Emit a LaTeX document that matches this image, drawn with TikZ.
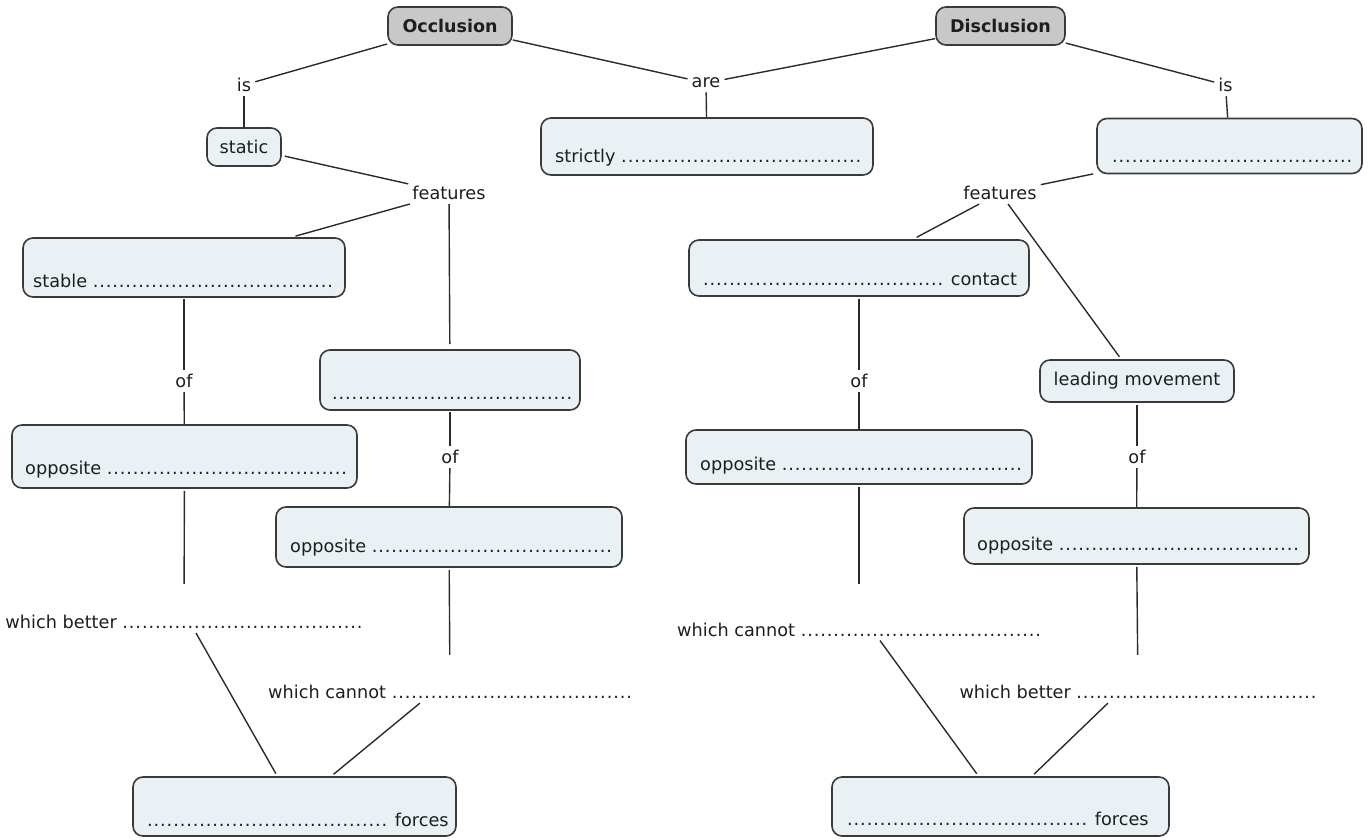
\documentclass[tikz,border=0pt]{standalone}
\usepackage{fontspec}
\setmainfont{DejaVu Sans}
\newfontfamily\dotfont[LetterSpace=5]{DejaVu Sans}
\newcommand\dt{{\dotfont .....................................}}
\definecolor{txt}{HTML}{1E1E1E}
\definecolor{lin}{HTML}{2B2B2B}
\definecolor{bord}{HTML}{3A3A3A}
\definecolor{boxfill}{HTML}{EAF1F4}
\definecolor{topfill}{HTML}{C8C8C8}
\begin{document}
\begin{tikzpicture}[x=1pt,y=-1pt,
  every node/.style={font=\fontsize{17.7}{21}\selectfont, text=txt},
  box/.style={draw=bord, line width=1.6pt, fill=boxfill, rounded corners=10pt, inner sep=0pt},
  topbox/.style={box, fill=topfill, font=\fontsize{17.5}{21}\selectfont\bfseries},
  lab/.style={inner sep=4pt},
  bt/.style={anchor=base west, inner sep=0pt},
  con/.style={draw=lin, line width=1.4pt}]
\useasboundingbox (0,0) rectangle (1371,840);

% top concepts
\node[topbox, minimum width=124pt, minimum height=38pt] (occ) at (450,26) {Occlusion};
\node[topbox, minimum width=129pt, minimum height=38pt] (dis) at (1000.5,26) {Disclusion};

% linking words
\node[lab] (isL) at (244,85) {is};
\node[lab] (are) at (706,83) {are};
\node[lab] (isR) at (1225.5,85) {is};
\node[lab] (featL) at (449,193) {features};
\node[lab] (featR) at (1000,193) {features};
\node[lab] (ofL1) at (184,381) {of};
\node[lab] (ofL2) at (450,457) {of};
\node[lab] (ofR1) at (859,381) {of};
\node[lab] (ofR2) at (1137,457) {of};
\node[lab] (wbL) at (184,622) {which better \dt};
\node[lab] (wcL) at (450,692) {which cannot \dt};
\node[lab] (wcR) at (859,629.5) {which cannot \dt};
\node[lab] (wbR) at (1138,692) {which better \dt};

% concepts
\node[box, minimum width=74pt, minimum height=38pt] (static) at (244,147) {static};
\node[box, minimum width=332pt, minimum height=57pt] (strict) at (707,146.5) {};
\node[bt] (strictT) at (555,163) {strictly \dt};
\node[box, minimum width=265pt, minimum height=55pt] (r1) at (1229.5,146) {};
\node[bt] (r1T) at (1112,163) {\dt};
\node[box, minimum width=322pt, minimum height=59pt] (stable) at (184,267.5) {};
\node[bt] (stableT) at (33,287) {stable \dt};
\node[box, minimum width=260pt, minimum height=60pt] (m1) at (450,380) {};
\node[bt] (m1T) at (332,399) {\dt};
\node[box, minimum width=340pt, minimum height=56pt] (contact) at (859,268) {};
\node[bt] (contactT) at (703,285) {\dt{} contact};
\node[box, minimum width=194pt, minimum height=42pt] (lead) at (1137,381) {leading movement};
\node[box, minimum width=345pt, minimum height=63pt] (oppL1) at (184.5,456.5) {};
\node[bt] (oppL1T) at (25,474) {opposite \dt};
\node[box, minimum width=346pt, minimum height=60pt] (oppL2) at (449,537) {};
\node[bt] (oppL2T) at (290,552) {opposite \dt};
\node[box, minimum width=346pt, minimum height=54pt] (oppR1) at (859,457) {};
\node[bt] (oppR1T) at (700,470) {opposite \dt};
\node[box, minimum width=345pt, minimum height=56pt] (oppR2) at (1136.5,536) {};
\node[bt] (oppR2T) at (977,550) {opposite \dt};
\node[box, minimum width=323pt, minimum height=59pt] (forcesL) at (294.5,806.5) {};
\node[bt] (forcesLT) at (147,826) {\dt{} forces};
\node[box, minimum width=337pt, minimum height=59pt] (forcesR) at (1000.5,806.5) {};
\node[bt] (forcesRT) at (847,825) {\dt{} forces};

% connectors
\draw[con] (occ) -- (isL);
\draw[con] (isL) -- (static);
\draw[con] (occ) -- (are);
\draw[con] (dis) -- (are);
\draw[con] (are) -- (strict);
\draw[con] (dis) -- (isR);
\draw[con] (isR) -- (r1);
\draw[con, shorten <=3pt] (static) -- (featL);
\draw[con, shorten >=4pt] (featL) -- (stable);
\draw[con, shorten >=5pt] (featL) -- (m1);
\draw[con, shorten <=3pt] (r1) -- (featR);
\draw[con, shorten >=4pt] (featR) -- (contact);
\draw[con, shorten >=3pt] (featR) -- (lead);
\draw[con, shorten <=1pt] (stable) -- (ofL1);
\draw[con] (ofL1) -- (oppL1);
\draw[con, shorten <=1pt] (m1) -- (ofL2);
\draw[con] (ofL2) -- (oppL2);
\draw[con, shorten <=2pt] (contact) -- (ofR1);
\draw[con] (ofR1) -- (oppR1);
\draw[con, shorten <=2pt] (lead) -- (ofR2);
\draw[con] (ofR2) -- (oppR2);
\draw[con, shorten <=2pt, shorten >=27pt] (oppL1) -- (wbL);
\draw[con, shorten <=2pt, shorten >=26pt] (oppL2) -- (wcL);
\draw[con, shorten <=2pt, shorten >=34pt] (oppR1) -- (wcR);
\draw[con, shorten <=2pt, shorten >=26pt] (oppR2) -- (wbR);
\draw[con, shorten >=3pt] ([xshift=12pt]wbL.south) -- (forcesL);
\draw[con, shorten >=3pt] ([xshift=-30pt]wcL.south) -- (forcesL);
\draw[con, shorten >=3pt] ([xshift=21pt]wcR.south) -- (forcesR);
\draw[con, shorten >=3pt] ([xshift=-30pt]wbR.south) -- (forcesR);
\end{tikzpicture}
\end{document}
